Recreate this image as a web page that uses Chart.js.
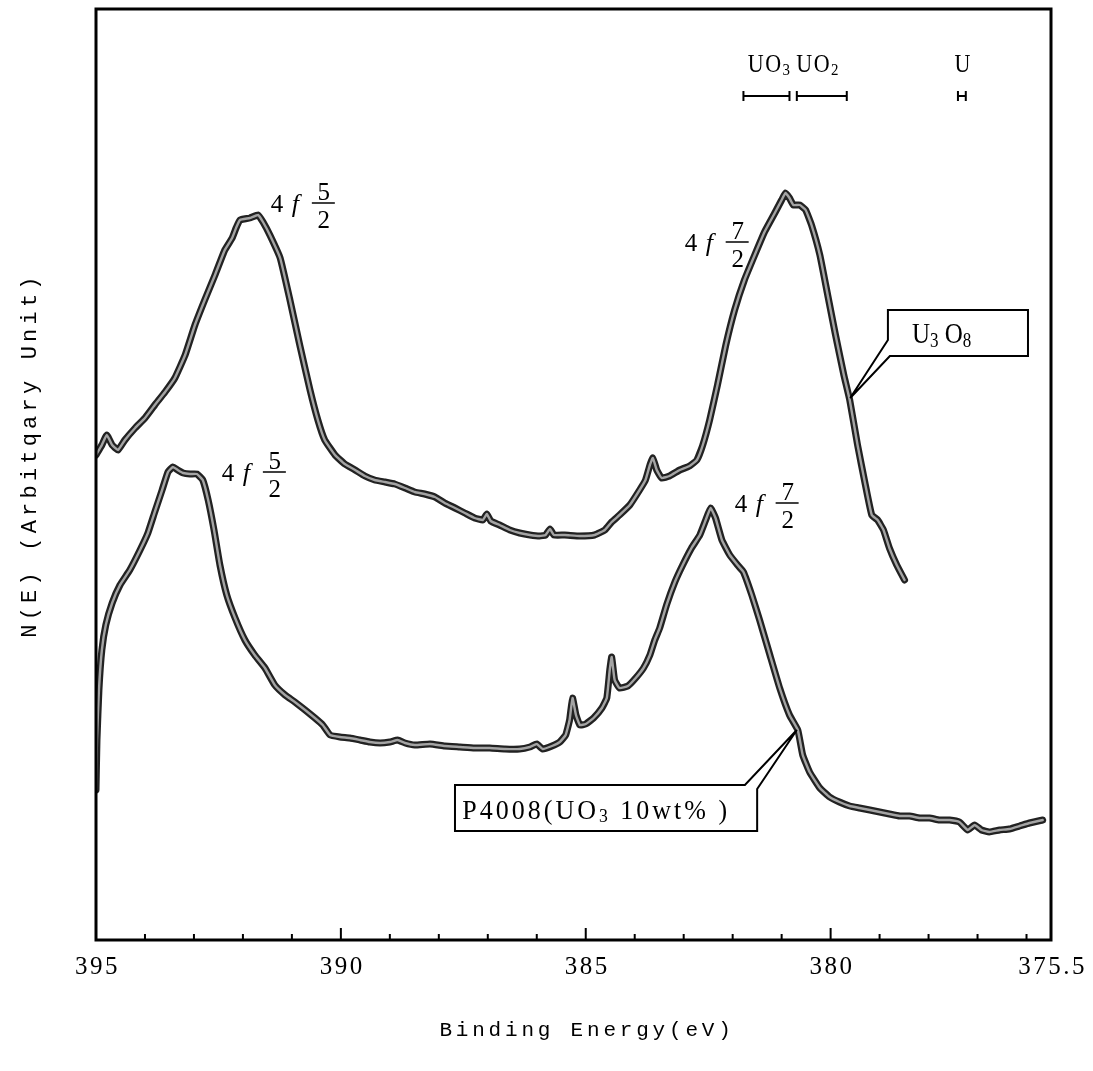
<!DOCTYPE html>
<html><head><meta charset="utf-8">
<script src="https://cdn.jsdelivr.net/npm/chart.js@4.4.1/dist/chart.umd.min.js"></script>
<style>html,body{margin:0;padding:0;background:#fff;}canvas{display:block;}</style>
</head><body>
<canvas id="c" width="1093" height="1071"></canvas>
<script>
// ---- data (binding energy in eV, intensity in arbitrary units) ----
const u3o8Energy = [395.00,394.88,394.78,394.67,394.55,394.41,394.20,394.00,393.80,393.59,393.39,393.18,392.98,392.78,392.57,392.37,392.22,392.14,392.06,391.86,391.69,391.59,391.45,391.24,391.04,390.84,390.63,390.47,390.33,390.12,389.92,389.71,389.51,389.31,389.10,388.90,388.69,388.49,388.29,388.08,387.88,387.67,387.47,387.27,387.10,387.02,386.94,386.76,386.55,386.35,386.14,385.94,385.82,385.73,385.65,385.43,385.12,384.82,384.61,384.47,384.31,384.10,383.90,383.78,383.69,383.63,383.55,383.45,383.29,383.08,382.88,382.73,382.61,382.47,382.31,382.14,381.96,381.76,381.55,381.35,381.14,381.00,380.92,380.84,380.76,380.63,380.51,380.39,380.22,380.06,379.90,379.73,379.61,379.45,379.29,379.16,379.04,378.92,378.80,378.65,378.49];
const u3o8Counts = [485,495,505,495,490,500,512,522,535,548,562,585,615,640,665,690,702,712,720,722,725,718,705,682,640,595,550,520,500,485,476,470,464,460,458,456,452,448,446,443,437,432,427,422,420,426,419,415,410,407,405,404,405,411,405,405,404,405,410,418,425,435,450,460,475,482,470,462,464,470,474,480,495,520,555,595,630,660,685,708,727,740,747,742,735,735,730,715,685,645,605,565,540,495,455,425,420,410,392,375,360];

const p4008Energy = [395.00,394.98,394.94,394.88,394.80,394.67,394.51,394.31,394.10,393.94,393.80,393.65,393.53,393.43,393.33,393.22,393.08,392.94,392.82,392.71,392.59,392.47,392.33,392.16,391.96,391.76,391.55,391.35,391.14,390.94,390.73,390.53,390.37,390.22,390.02,389.82,389.61,389.41,389.20,389.00,388.84,388.69,388.49,388.18,387.88,387.57,387.27,386.96,386.65,386.35,386.14,386.00,385.88,385.69,385.53,385.41,385.33,385.27,385.20,385.12,385.00,384.84,384.67,384.57,384.51,384.47,384.41,384.31,384.14,383.98,383.82,383.69,383.59,383.49,383.35,383.18,383.02,382.84,382.67,382.55,382.45,382.35,382.22,382.06,381.90,381.78,381.61,381.45,381.24,381.04,380.84,380.67,380.57,380.43,380.22,380.02,379.82,379.61,379.41,379.20,379.00,378.80,378.59,378.39,378.18,377.98,377.78,377.57,377.37,377.20,377.06,376.92,376.76,376.55,376.35,376.14,375.94,375.67];
const p4008Counts = [150,200,250,290,315,337,355,370,390,407,428,450,468,473,470,467,466,466,460,440,410,375,345,322,300,285,272,255,245,238,230,222,215,205,203,202,200,198,197,198,200,197,195,196,194,193,192,192,191,191,193,196,191,194,198,205,220,242,225,215,216,222,232,242,270,283,260,252,254,262,272,285,300,312,335,358,375,392,405,420,432,422,400,385,375,368,345,320,285,252,225,210,185,168,152,143,138,134,132,130,128,126,124,124,122,122,120,120,118,110,115,110,108,110,111,114,117,120];

const tickLabels = [395, 390, 385, 380, 375.5];
const tickMajor = [390, 385, 380];
const tickMinor = [394,393,392,391,389,388,387,386,384,383,382,381,379,378,377,376];

const xTitle = 'Binding Energy(eV)';
const yTitle = 'N(E) (Arbitqary Unit)';

// ---- annotation config (data coordinates) ----
const peakLabels = [
  {e: 391.43, i: 737, num: '5', den: '2'},
  {e: 382.98, i: 698, num: '7', den: '2'},
  {e: 392.43, i: 468, num: '5', den: '2'},
  {e: 381.96, i: 437, num: '7', den: '2'}
];
const refMarks = [
  {name: [['U'],['O'],['3','sub']], from: 381.78, to: 380.84, textE: 381.69},
  {name: [['U'],['O'],['2','sub']], from: 380.69, to: 379.67, textE: 380.70},
  {name: [['U']], from: 377.40, to: 377.24, textE: 377.47}
];

const SERIF = '"Liberation Serif", "DejaVu Serif", serif';
const MONO = '"Liberation Mono", "DejaVu Sans Mono", monospace';

function toPts(xs, ys) { return xs.map((x, k) => ({x: x, y: ys[k]})); }

function drawRich(ctx, x, y, parts, size, spacing, sy) {
  ctx.save();
  ctx.translate(x, y);
  ctx.scale(1, sy || 1);
  ctx.textBaseline = 'alphabetic';
  ctx.textAlign = 'left';
  let cx = 0;
  for (const p of parts) {
    const sub = p[1] === 'sub';
    const fs = sub ? size * 0.68 : size;
    ctx.font = fs + 'px ' + SERIF;
    ctx.letterSpacing = spacing + 'px';
    ctx.fillText(p[0], cx, sub ? size * 0.12 : 0);
    cx += ctx.measureText(p[0]).width;
  }
  ctx.restore();
  return cx;
}

const decor = {
  id: 'decor',
  afterDraw(chart) {
    const ctx = chart.ctx;
    const xs = chart.scales.x, ys = chart.scales.y;
    const X = v => xs.getPixelForValue(v), Y = v => ys.getPixelForValue(v);
    const a = chart.chartArea;
    ctx.save();
    ctx.fillStyle = '#000'; ctx.strokeStyle = '#000';
    // frame
    ctx.lineWidth = 3;
    ctx.strokeRect(a.left, a.top, a.right - a.left, a.bottom - a.top);
    // ticks (inside)
    ctx.lineWidth = 2;
    ctx.beginPath();
    tickMinor.forEach(v => { ctx.moveTo(X(v), a.bottom); ctx.lineTo(X(v), a.bottom - 6); });
    tickMajor.forEach(v => { ctx.moveTo(X(v), a.bottom); ctx.lineTo(X(v), a.bottom - 12); });
    ctx.stroke();
    // tick labels
    ctx.font = '25px ' + SERIF;
    ctx.letterSpacing = '2.5px';
    ctx.textAlign = 'center'; ctx.textBaseline = 'middle';
    tickLabels.forEach(v => ctx.fillText(String(v), X(v) + 1.5, a.bottom + 27));
    // axis titles
    ctx.font = '21px ' + MONO;
    ctx.letterSpacing = '3.8px';
    ctx.fillText(xTitle, 587, 1030);
    ctx.save();
    ctx.translate(30, 455);
    ctx.rotate(-Math.PI / 2);
    ctx.font = '22px ' + MONO;
    ctx.letterSpacing = '4.2px';
    ctx.fillText(yTitle, 0, 0);
    ctx.restore();
    ctx.letterSpacing = '0px';

    // peak labels 4f 5/2 etc.
    peakLabels.forEach(p => {
      const x0 = X(p.e), ly = Y(p.i);
      ctx.textAlign = 'left'; ctx.textBaseline = 'alphabetic';
      ctx.font = '25px ' + SERIF;
      ctx.fillText('4', x0, ly + 9);
      ctx.font = 'italic 26px ' + SERIF;
      ctx.fillText('f', x0 + 21, ly + 9);
      ctx.lineWidth = 1.5;
      ctx.beginPath(); ctx.moveTo(x0 + 41, ly); ctx.lineTo(x0 + 64, ly); ctx.stroke();
      ctx.textAlign = 'center';
      ctx.font = '25px ' + SERIF;
      ctx.fillText(p.num, x0 + 53, ly - 3);
      ctx.fillText(p.den, x0 + 53, ly + 25);
    });

    // reference marks UO3 / UO2 / U
    refMarks.forEach(m => {
      drawRich(ctx, X(m.textE), Y(868), m.name, 22, 1.5, 1.1);
      const x1 = X(m.from), x2 = X(m.to), yb = Y(844);
      ctx.lineWidth = 2;
      ctx.beginPath();
      ctx.moveTo(x1, yb); ctx.lineTo(x2, yb);
      ctx.moveTo(x1, yb - 5); ctx.lineTo(x1, yb + 5);
      ctx.moveTo(x2, yb - 5); ctx.lineTo(x2, yb + 5);
      ctx.stroke();
    });

    // callout U3O8
    ctx.lineWidth = 2;
    ctx.beginPath();
    ctx.moveTo(X(378.83), Y(630)); ctx.lineTo(X(375.97), Y(630));
    ctx.lineTo(X(375.97), Y(584)); ctx.lineTo(X(378.79), Y(584));
    ctx.lineTo(X(379.60), Y(542)); ctx.lineTo(X(378.83), Y(600));
    ctx.closePath();
    ctx.fillStyle = '#fff'; ctx.fill(); ctx.fillStyle = '#000';
    ctx.stroke();
    drawRich(ctx, X(378.34), Y(597), [['U'],['3','sub'],[' '],['O'],['8','sub']], 25, 0, 1.2);

    // callout P4008
    ctx.beginPath();
    ctx.moveTo(X(387.67), Y(155)); ctx.lineTo(X(381.75), Y(155));
    ctx.lineTo(X(380.69), Y(210)); ctx.lineTo(X(381.50), Y(151));
    ctx.lineTo(X(381.50), Y(109)); ctx.lineTo(X(387.67), Y(109));
    ctx.closePath();
    ctx.fillStyle = '#fff'; ctx.fill(); ctx.fillStyle = '#000';
    ctx.stroke();
    drawRich(ctx, X(387.52), Y(121), [['P4008('],['UO'],['3','sub'],[' 10wt% )']], 26, 3, 1.08);
    ctx.restore();
  }
};

new Chart(document.getElementById('c'), {
  type: 'line',
  data: {
    datasets: [
      {label: 'U3O8', data: toPts(u3o8Energy, u3o8Counts), borderColor: '#a4a4a4', borderWidth: 2.4, order: 0},
      {label: 'U3O8 edge', data: toPts(u3o8Energy, u3o8Counts), borderColor: '#222222', borderWidth: 7, order: 1},
      {label: 'P4008', data: toPts(p4008Energy, p4008Counts), borderColor: '#a4a4a4', borderWidth: 2.4, order: 0},
      {label: 'P4008 edge', data: toPts(p4008Energy, p4008Counts), borderColor: '#222222', borderWidth: 7, order: 1}
    ]
  },
  options: {
    responsive: false,
    animation: false,
    devicePixelRatio: 1,
    layout: {padding: {left: 96, right: 42, top: 9, bottom: 131}},
    elements: {point: {radius: 0}, line: {tension: 0.12, borderJoinStyle: 'round', borderCapStyle: 'round', fill: false}},
    plugins: {legend: {display: false}, tooltip: {enabled: false}},
    scales: {
      x: {type: 'linear', min: 375.5, max: 395, reverse: true, display: false},
      y: {type: 'linear', min: 0, max: 931, display: false}
    }
  },
  plugins: [decor]
});
</script>
</body></html>
